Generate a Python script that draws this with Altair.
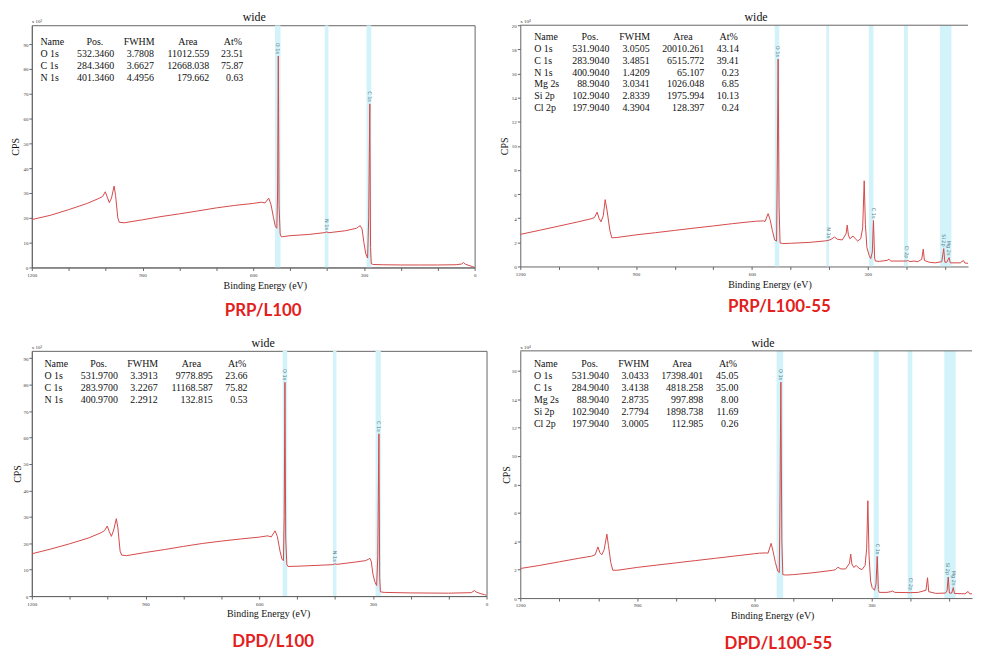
import altair as alt
import pandas as pd

# ---------------- data ----------------
# PRP/L100  (CPS x 10^3)
p1_ev = [1200,1150,1100,1050,1017,1008,1001,996,990,984,977,973,967,963,950,900,850,800,757,700,650,600,578,568,558,552,545,540,536,534,532,530,527,524,520,500,450,408,401,395,350,320,315,310,305,300,295,290,287,284,282,280,275,250,200,150,100,50,35,30,25,15,5,0]
p1_cps = [19.3,21.0,23.3,25.8,27.9,28.6,30.5,28.5,26.1,28.0,32.8,29.0,20.0,18.2,18.0,19.2,20.5,21.6,22.6,24.0,25.0,25.8,26.3,26.0,27.9,25.5,20.0,16.5,15.8,30.0,85.2,25.0,13.5,12.4,12.4,12.8,13.3,14.0,14.3,14.0,14.8,15.8,16.4,16.8,15.5,10.0,5.5,3.8,20.0,65.9,8.0,1.5,1.2,1.1,1.0,1.0,1.0,1.1,1.4,2.0,1.3,0.8,0.3,0.1]

# PRP/L100-55  (CPS x 10^4)
p2_ev = [1200,1150,1100,1050,1017,1008,1001,996,991,985,980,975,968,963,950,900,850,800,750,700,650,600,590,570,566,558,553,547,541,536,534.5,532,529.5,527,520,500,450,410,401,395,386,378,366,356,353,350,346,338,332,326,318,313,309,306,302,296,292,288,285,282,280,270,250,245,240,200,197,190,180,170,160,156,153,140,125,108,103,100,95,89,86,60,52,48,30,25,20]
p2_cps = [2.66,3.0,3.35,3.7,3.95,4.05,4.5,4.0,3.7,4.2,5.54,4.6,3.0,2.38,2.4,2.62,2.8,2.99,3.18,3.36,3.55,3.72,3.75,3.78,3.72,4.38,3.9,3.0,2.2,2.1,7.0,17.2,5.0,1.95,1.9,1.92,2.0,2.12,2.17,2.25,2.44,2.25,2.2,2.7,3.43,2.6,2.3,2.52,2.3,2.11,2.3,3.2,7.1,3.5,1.56,0.9,0.65,1.2,3.81,0.7,0.45,0.42,0.5,0.6,0.45,0.45,0.5,0.4,0.45,0.4,0.6,1.43,0.5,0.35,0.3,0.4,1.48,0.35,0.35,0.74,0.3,0.3,0.5,0.28,0.25,0.35,0.2]

# DPD/L100  (CPS x 10^3)
p3_ev = [1200,1150,1100,1050,1017,1008,1001,996,990,984,977,973,967,963,950,900,850,800,750,700,650,600,578,568,558,552,545,540,536,534,532,530,527,524,500,450,405,401,395,350,320,312,308,304,300,295,290,287,284,282,280,270,200,100,40,32,27,15,5,0]
p3_cps = [16.0,17.8,19.8,22.0,24.0,24.8,26.5,24.5,22.6,25.0,29.3,26.0,17.0,15.5,15.3,16.5,17.6,18.8,19.9,20.8,21.6,22.3,22.8,22.4,24.7,22.5,17.0,14.0,13.4,30.0,80.9,22.0,12.0,11.2,11.3,11.6,11.9,12.2,12.0,12.8,13.4,13.9,14.3,13.0,8.5,5.5,4.0,15.0,61.4,7.0,1.6,1.4,1.2,1.1,1.3,2.1,1.5,0.9,0.5,0.3]

# DPD/L100-55  (CPS x 10^4)
p4_ev = [1200,1150,1100,1050,1017,1008,1001,996,991,985,978,974,968,963,950,900,850,800,750,700,650,600,587,568,565,557,552,546,540,536,534.5,532,529.5,527,520,500,450,400,392,386,378,366,356,353,350,345,339,332,324,316,312,309,306,302,298,292,288,285,282,280,260,250,246,240,200,180,160,156,153,135,110,106,103,100,94,90,87,60,52,48,30,27,22]
p4_cps = [2.08,2.3,2.55,2.8,2.95,3.05,3.6,3.2,3.05,3.4,4.5,3.7,2.5,1.96,1.96,2.16,2.32,2.48,2.64,2.8,2.96,3.12,3.16,3.18,3.15,3.85,3.3,2.5,1.9,1.8,6.0,15.2,4.0,1.65,1.62,1.65,1.78,1.95,2.0,2.17,2.05,2.05,2.45,3.1,2.4,2.15,2.3,2.1,2.0,2.3,3.5,6.85,3.0,1.2,0.74,0.55,1.0,2.93,0.6,0.4,0.4,0.45,0.5,0.4,0.38,0.4,0.55,1.43,0.45,0.33,0.35,0.5,1.48,0.35,0.35,0.74,0.32,0.3,0.46,0.3,0.3,0.4,0.2]

# integration windows (eV)
p1_bands_lo = [526, 396, 280]
p1_bands_hi = [541, 406, 293]
p2_bands_lo = [529, 400, 285, 196, 83]
p2_bands_hi = [541, 407, 297, 206, 113]
p3_bands_lo = [526, 396, 279]
p3_bands_hi = [538, 405, 293]
p4_bands_lo = [526, 281, 195, 84]
p4_bands_hi = [543, 294, 207, 113]

# peak markers
p1_pk_lab = ["O 1s", "C 1s", "N 1s"]
p1_pk_ev = [532, 284, 401]
p1_pk_y = [85.2, 65.9, 14.3]
p2_pk_lab = ["O 1s", "N 1s", "C 1s", "Cl 2p", "Si 2p", "Mg 2s"]
p2_pk_ev = [532, 401, 284, 198, 103, 89]
p2_pk_y = [17.2, 2.17, 3.81, 0.5, 1.48, 0.74]
p3_pk_lab = ["O 1s", "C 1s", "N 1s"]
p3_pk_ev = [532, 284, 401]
p3_pk_y = [80.9, 61.4, 12.2]
p4_pk_lab = ["O 1s", "C 1s", "Cl 2p", "Si 2p", "Mg 2s"]
p4_pk_ev = [532, 284, 198, 103, 89]
p4_pk_y = [15.2, 2.93, 0.4, 1.48, 0.74]

# quantification tables
headers = ["Name", "Pos.", "FWHM", "Area", "At%"]
p1_table = [["O 1s", "532.3460", "3.7808", "11012.559", "23.51"],
            ["C 1s", "284.3460", "3.6627", "12668.038", "75.87"],
            ["N 1s", "401.3460", "4.4956", "179.662", "0.63"]]
p2_table = [["O 1s", "531.9040", "3.0505", "20010.261", "43.14"],
            ["C 1s", "283.9040", "3.4851", "6515.772", "39.41"],
            ["N 1s", "400.9040", "1.4209", "65.107", "0.23"],
            ["Mg 2s", "88.9040", "3.0341", "1026.048", "6.85"],
            ["Si 2p", "102.9040", "2.8339", "1975.994", "10.13"],
            ["Cl 2p", "197.9040", "4.3904", "128.397", "0.24"]]
p3_table = [["O 1s", "531.9700", "3.3913", "9778.895", "23.66"],
            ["C 1s", "283.9700", "3.2267", "11168.587", "75.82"],
            ["N 1s", "400.9700", "2.2912", "132.815", "0.53"]]
p4_table = [["O 1s", "531.9040", "3.0433", "17398.401", "45.05"],
            ["C 1s", "284.9040", "3.4138", "4818.258", "35.00"],
            ["Mg 2s", "88.9040", "2.8735", "997.898", "8.00"],
            ["Si 2p", "102.9040", "2.7794", "1898.738", "11.69"],
            ["Cl 2p", "197.9040", "3.0005", "112.985", "0.26"]]

sample_names = ["PRP/L100", "PRP/L100-55", "DPD/L100", "DPD/L100-55"]

# ---------------- style / layout ----------------
SERIF = "Liberation Serif, Times New Roman, serif"
LINE = "#d4494a"
BAND = "#d2f3f9"
FRAME = "#666666"
RED = "#e3201b"
PEAKLAB = "#5a7d8c"

layouts = [
    dict(w=446, h=244, xend=0, ymax=97.6, ystep=10, exp="x 10\u00b3", frame=True,
         name_x=8.7, rights=[83, 123, 178.7, 213], hy=16.7, dy=12, lab_x=233, lab_dy=44,
         title_dx=1, xt=234.7, tpad=2),
    dict(w=451, h=243, xend=40, ymax=20, ystep=2, exp="x 10\u2074", frame=False,
         name_x=14, rights=[89.7, 130.3, 185.3, 220.3], hy=12, dy=11.9, lab_x=261, lab_dy=41,
         title_dx=12, xt=251, tpad=2),
    dict(w=458, h=247, xend=0, ymax=92.8, ystep=10, exp="x 10\u00b3", frame=True,
         name_x=12.7, rights=[86.7, 126.7, 182.3, 217.3], hy=13.7, dy=11.9, lab_x=243, lab_dy=46,
         title_dx=4, xt=238, tpad=0),
    dict(w=455, h=249, xend=42, ymax=17.4, ystep=2, exp="x 10\u2074", frame=False,
         name_x=13.7, rights=[89.3, 129.3, 184.3, 219.7], hy=13.3, dy=12.1, lab_x=260, lab_dy=46,
         title_dx=17, xt=253.7, tpad=0),
]
HEAD_SHIFT = [19.5, 15, 21.5, 10.5]


def panel(ev, cps, blo, bhi, pk_lab, pk_ev, pk_y, table, name, L):
    W, H, x0, x1, ymax = L["w"], L["h"], 1200, L["xend"], L["ymax"]
    px2x = lambda p: x0 + p / W * (x1 - x0)
    py2y = lambda p: ymax - p / H * ymax

    xs = alt.Scale(domain=[x0, x1], nice=False, zero=False)
    ys = alt.Scale(domain=[0, ymax], nice=False, zero=False)
    xticks = [v for v in range(0, 1201, 100) if min(x0, x1) <= v <= max(x0, x1)]
    yticks = [round(i * L["ystep"], 3) for i in range(0, 11) if i * L["ystep"] <= ymax + 0.6]
    xaxis = alt.Axis(values=xticks, labelExpr="datum.value % 300 == 0 ? datum.label : ''",
                     format="d", labelFlush=False, labelFontSize=5, labelColor="#333",
                     labelFont=SERIF, labelPadding=2, tickSize=3, tickColor=FRAME,
                     domainColor=FRAME, grid=False, title="Binding Energy (eV)",
                     titleFont=SERIF, titleFontSize=10, titleFontWeight="normal",
                     titleColor="#111", titlePadding=3, titleX=L["xt"])
    yaxis = alt.Axis(values=yticks, format="d", labelFontSize=5, labelColor="#333",
                     labelFont=SERIF, labelPadding=1, tickSize=3, tickColor=FRAME,
                     domainColor=FRAME, grid=False, title="CPS", titleFont=SERIF,
                     titleFontSize=10, titleFontWeight="normal", titleColor="#111",
                     titlePadding=L["tpad"])
    X = lambda f: alt.X(f, type="quantitative", scale=xs, axis=xaxis)
    Y = lambda f: alt.Y(f, type="quantitative", scale=ys, axis=yaxis)

    bands = alt.Chart(pd.DataFrame({"lo": blo, "hi": bhi})).mark_rect(
        color=BAND, clip=True).encode(x=X("lo"), x2="hi")
    line = alt.Chart(pd.DataFrame({"ev": ev, "cps": cps})).mark_line(
        color=LINE, strokeWidth=1, clip=True).encode(x=X("ev"), y=Y("cps"))
    peaks = alt.Chart(pd.DataFrame({"ev": pk_ev, "y": pk_y, "t": pk_lab})).mark_text(
        angle=90, align="right", baseline="middle", fontSize=5, font="DejaVu Sans",
        color=PEAKLAB, dx=-2).encode(x=X("ev"), y=Y("y"), text="t")

    # table cells placed in data coordinates from layout offsets
    left_rows, right_rows, head_rows = [], [], []
    left_rows.append(dict(x=px2x(L["name_x"]), y=py2y(L["hy"]), t=headers[0]))
    for j in range(4):
        head_rows.append(dict(x=px2x(L["rights"][j] - HEAD_SHIFT[j]), y=py2y(L["hy"]), t=headers[j + 1]))
    for i, row in enumerate(table):
        yy = py2y(L["hy"] + (i + 1) * L["dy"])
        left_rows.append(dict(x=px2x(L["name_x"]), y=yy, t=row[0]))
        for j in range(4):
            right_rows.append(dict(x=px2x(L["rights"][j]), y=yy, t=row[j + 1]))
    tstyle = dict(baseline="middle", fontSize=10, font=SERIF, color="#111")
    t_left = alt.Chart(pd.DataFrame(left_rows)).mark_text(align="left", **tstyle).encode(
        x=X("x"), y=Y("y"), text="t")
    t_right = alt.Chart(pd.DataFrame(right_rows)).mark_text(align="right", **tstyle).encode(
        x=X("x"), y=Y("y"), text="t")
    t_head = alt.Chart(pd.DataFrame(head_rows)).mark_text(align="center", **tstyle).encode(
        x=X("x"), y=Y("y"), text="t")

    exp = alt.Chart(pd.DataFrame({"x": [x0], "y": [ymax], "t": [L["exp"]]})).mark_text(
        align="left", baseline="bottom", fontSize=5, font=SERIF, color="#333", dy=-1).encode(
        x=X("x"), y=Y("y"), text="t")
    label = alt.Chart(pd.DataFrame({"x": [px2x(L["lab_x"])], "y": [0], "t": [name]})).mark_text(
        align="center", baseline="middle", fontSize=17, font="Lato", fontWeight="bold",
        color=RED, dy=L["lab_dy"]).encode(x=X("x"), y=Y("y"), text="t")

    layers = [bands, line, peaks, t_left, t_right, t_head, exp, label]
    if not L["frame"]:
        top = alt.Chart(pd.DataFrame({"y": [ymax]})).mark_rule(
            color=FRAME, strokeWidth=1).encode(y=Y("y"))
        layers.append(top)
    return alt.layer(*layers).properties(
        width=W, height=H,
        title=alt.Title("wide", font=SERIF, fontSize=12, fontWeight="normal",
                        color="#111", offset=-5, dx=L["title_dx"], frame="group"),
        view=alt.ViewBackground(stroke=FRAME if L["frame"] else "transparent", strokeWidth=1),
    )


c1 = panel(p1_ev, p1_cps, p1_bands_lo, p1_bands_hi, p1_pk_lab, p1_pk_ev, p1_pk_y, p1_table, sample_names[0], layouts[0])
c2 = panel(p2_ev, p2_cps, p2_bands_lo, p2_bands_hi, p2_pk_lab, p2_pk_ev, p2_pk_y, p2_table, sample_names[1], layouts[1])
c3 = panel(p3_ev, p3_cps, p3_bands_lo, p3_bands_hi, p3_pk_lab, p3_pk_ev, p3_pk_y, p3_table, sample_names[2], layouts[2])
c4 = panel(p4_ev, p4_cps, p4_bands_lo, p4_bands_hi, p4_pk_lab, p4_pk_ev, p4_pk_y, p4_table, sample_names[3], layouts[3])

row1 = alt.hconcat(c1, c2, spacing=22)
row2 = alt.hconcat(c3, c4, spacing=12)
chart = alt.vconcat(row1, row2, spacing=16).properties(
    padding={"left": 2, "top": 0, "right": 0, "bottom": 0},
    background="white",
).configure_axis(
    labelFont=SERIF, titleFont=SERIF, titleFontWeight="normal"
).configure_title(font=SERIF, fontWeight="normal")

chart.save("out.html", embed_options={"renderer": "svg", "actions": False})
